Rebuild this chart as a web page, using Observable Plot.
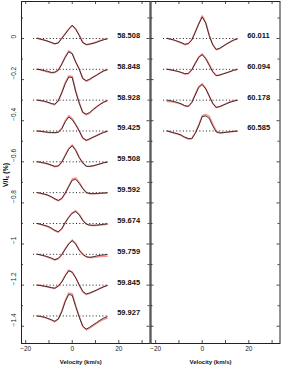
<!DOCTYPE html>
<html>
<head>
<meta charset="utf-8">
<script src="https://cdn.jsdelivr.net/npm/d3@7"></script>
<script src="https://cdn.jsdelivr.net/npm/@observablehq/plot@0.6"></script>
<style>
  html, body { margin: 0; padding: 0; background: #fff; }
  #wrap { position: relative; width: 281px; height: 368px; overflow: hidden; font-family: "Liberation Sans", Arial, sans-serif; }
  #left, #right { position: absolute; top: 0; }
  #left { left: 0; }
  #right { left: 150px; }
  #ylab { position: absolute; left: 0; top: 0; }
</style>
</head>
<body>
<div id="wrap">
  <div id="left"></div>
  <div id="right"></div>
  <svg id="ylab" width="20" height="368">
    <text transform="translate(7.5,175) rotate(-90)" text-anchor="middle" font-family="Liberation Sans, Arial, sans-serif" font-size="7" font-weight="bold" fill="#000">V/I<tspan font-size="5" dy="1.8">c</tspan><tspan dy="-1.8"> (%)</tspan></text>
  </svg>
</div>
<script>
// Velocity grid (km/s) shared by all profiles
const velocities = [-15, -13.5, -12, -10.5, -9, -7.5, -6, -4.5, -3, -1.5, 0, 1.5, 3, 4.5, 6, 7.5, 9, 10.5, 12, 13.5, 15];

// Rotational phases (labels) and vertical offsets (%)
const leftLabels = ["58.508", "58.848", "58.928", "59.425", "59.508", "59.592", "59.674", "59.759", "59.845", "59.927"];
const leftOffsets = [0, -0.15, -0.30, -0.45, -0.60, -0.75, -0.90, -1.05, -1.20, -1.35];
const rightLabels = ["60.011", "60.094", "60.178", "60.585"];
const rightOffsets = [0, -0.15, -0.30, -0.45];

// Model (black) profiles, V/Ic (%)
const model58508 = [0.000,-0.004,-0.008,-0.013,-0.019,-0.025,-0.022,0.000,0.022,0.045,0.065,0.045,0.015,-0.020,-0.029,-0.027,-0.024,-0.019,-0.012,-0.006,-0.002];
const model58848 = [0.000,-0.002,-0.006,-0.010,-0.015,-0.014,-0.004,0.025,0.058,0.086,0.075,0.035,0.002,-0.045,-0.055,-0.048,-0.038,-0.029,-0.018,-0.008,-0.002];
const model58928 = [0.000,-0.002,-0.005,-0.010,-0.016,-0.020,-0.002,0.035,0.080,0.112,0.110,0.040,-0.015,-0.060,-0.068,-0.060,-0.045,-0.032,-0.020,-0.010,-0.003];
const model59425 = [0.000,-0.002,-0.004,-0.006,-0.007,-0.008,-0.006,0.010,0.045,0.068,0.055,0.030,0.000,-0.035,-0.045,-0.038,-0.030,-0.023,-0.015,-0.007,-0.002];
const model59508 = [0.000,-0.003,-0.006,-0.010,-0.016,-0.022,-0.020,-0.002,0.030,0.062,0.078,0.055,0.020,-0.005,-0.022,-0.022,-0.019,-0.015,-0.010,-0.005,-0.002];
const model59592 = [0.000,-0.003,-0.007,-0.012,-0.020,-0.030,-0.038,-0.028,-0.002,0.030,0.060,0.065,0.045,0.020,0.000,-0.005,-0.005,-0.004,-0.003,-0.002,-0.001];
const model59674 = [0.000,-0.004,-0.009,-0.014,-0.022,-0.033,-0.040,-0.025,0.005,0.030,0.050,0.058,0.042,0.015,-0.003,-0.008,-0.009,-0.008,-0.006,-0.004,-0.002];
const model59759 = [0.000,-0.003,-0.007,-0.012,-0.018,-0.026,-0.020,-0.002,0.025,0.050,0.066,0.050,0.020,0.000,-0.012,-0.015,-0.012,-0.008,-0.005,-0.003,-0.001];
const model59845 = [0.000,-0.002,-0.005,-0.008,-0.012,-0.015,-0.005,0.015,0.045,0.070,0.062,0.035,0.002,-0.030,-0.043,-0.038,-0.031,-0.024,-0.016,-0.008,-0.002];
const model59927 = [0.000,-0.003,-0.006,-0.012,-0.018,-0.026,-0.015,0.020,0.070,0.105,0.100,0.045,-0.005,-0.050,-0.064,-0.055,-0.043,-0.032,-0.020,-0.010,-0.004];
const model60011 = [0.000,-0.004,-0.008,-0.014,-0.020,-0.028,-0.025,-0.008,0.030,0.070,0.105,0.075,0.015,-0.030,-0.053,-0.048,-0.037,-0.027,-0.017,-0.008,-0.002];
const model60094 = [0.000,-0.003,-0.006,-0.010,-0.015,-0.021,-0.020,-0.003,0.028,0.058,0.072,0.052,0.020,-0.012,-0.031,-0.028,-0.022,-0.017,-0.011,-0.005,-0.001];
const model60178 = [0.000,-0.003,-0.007,-0.012,-0.018,-0.027,-0.030,-0.012,0.025,0.062,0.076,0.055,0.020,-0.015,-0.035,-0.031,-0.024,-0.017,-0.010,-0.005,-0.001];
const model60585 = [0.000,-0.005,-0.010,-0.014,-0.020,-0.030,-0.037,-0.038,-0.012,0.025,0.070,0.073,0.062,0.025,-0.005,-0.010,-0.008,-0.006,-0.004,-0.002,-0.001];

// Observed (red) profiles, V/Ic (%)
const obs58508 = [0.003,-0.002,-0.007,-0.014,-0.021,-0.027,-0.020,0.003,0.024,0.046,0.062,0.047,0.017,-0.018,-0.031,-0.028,-0.022,-0.016,-0.010,-0.005,0.000];
const obs58848 = [0.002,-0.003,-0.008,-0.013,-0.018,-0.016,-0.005,0.027,0.062,0.090,0.078,0.036,0.000,-0.043,-0.058,-0.050,-0.037,-0.027,-0.016,-0.007,-0.001];
const obs58928 = [0.001,-0.003,-0.006,-0.011,-0.018,-0.022,-0.004,0.038,0.086,0.118,0.116,0.046,-0.012,-0.058,-0.072,-0.063,-0.047,-0.033,-0.020,-0.009,-0.002];
const obs59425 = [0.001,-0.001,-0.004,-0.007,-0.008,-0.009,-0.005,0.013,0.050,0.075,0.060,0.032,0.002,-0.033,-0.047,-0.040,-0.030,-0.021,-0.013,-0.006,-0.001];
const obs59508 = [0.001,-0.002,-0.006,-0.011,-0.017,-0.024,-0.021,-0.001,0.033,0.066,0.082,0.058,0.022,-0.004,-0.021,-0.023,-0.020,-0.015,-0.009,-0.004,0.000];
const obs59592 = [0.000,-0.004,-0.008,-0.013,-0.021,-0.031,-0.040,-0.030,-0.003,0.032,0.066,0.072,0.050,0.022,0.002,-0.004,-0.006,-0.005,-0.003,-0.002,0.000];
const obs59674 = [0.000,-0.005,-0.010,-0.016,-0.025,-0.036,-0.043,-0.027,0.004,0.031,0.052,0.062,0.044,0.017,-0.002,-0.009,-0.010,-0.010,-0.008,-0.006,-0.004];
const obs59759 = [0.001,-0.004,-0.009,-0.015,-0.021,-0.028,-0.022,-0.001,0.027,0.053,0.070,0.052,0.021,0.001,-0.011,-0.016,-0.015,-0.013,-0.011,-0.010,-0.009];
const obs59845 = [0.001,-0.002,-0.006,-0.009,-0.013,-0.016,-0.004,0.017,0.048,0.073,0.064,0.036,0.000,-0.033,-0.046,-0.040,-0.032,-0.024,-0.015,-0.008,-0.001];
const obs59927 = [0.000,-0.002,-0.006,-0.013,-0.020,-0.028,-0.014,0.024,0.076,0.112,0.108,0.050,-0.003,-0.050,-0.067,-0.059,-0.047,-0.036,-0.025,-0.016,-0.011];
const obs60011 = [0.001,-0.003,-0.008,-0.015,-0.022,-0.030,-0.026,-0.006,0.033,0.073,0.110,0.078,0.016,-0.030,-0.055,-0.049,-0.037,-0.026,-0.016,-0.008,-0.001];
const obs60094 = [0.001,-0.002,-0.006,-0.010,-0.016,-0.023,-0.021,-0.002,0.030,0.061,0.074,0.054,0.024,-0.010,-0.030,-0.028,-0.022,-0.016,-0.010,-0.004,0.000];
const obs60178 = [-0.006,-0.008,-0.010,-0.014,-0.020,-0.028,-0.031,-0.011,0.028,0.066,0.080,0.057,0.021,-0.016,-0.036,-0.032,-0.024,-0.016,-0.008,-0.003,0.001];
const obs60585 = [0.000,-0.005,-0.010,-0.015,-0.022,-0.032,-0.039,-0.036,-0.008,0.030,0.074,0.080,0.072,0.035,0.001,-0.008,-0.008,-0.006,-0.004,-0.002,0.000];

// Axis ticks
const xTickLabels = [-20, 0, 20];
const xTicksAll = [-20, -10, 0, 10, 20, 30];
const yTickLabels = [0, -0.2, -0.4, -0.6, -0.8, -1, -1.2, -1.4];
const yTicksMinor = [0.1, -0.1, -0.3, -0.5, -0.7, -0.9, -1.1, -1.3];

const leftModels = [model58508, model58848, model58928, model59425, model59508, model59592, model59674, model59759, model59845, model59927];
const leftObs = [obs58508, obs58848, obs58928, obs59425, obs59508, obs59592, obs59674, obs59759, obs59845, obs59927];
const rightModels = [model60011, model60094, model60178, model60585];
const rightObs = [obs60011, obs60094, obs60178, obs60585];

function rows(series, offsets, labels) {
  const out = [];
  series.forEach((s, i) => s.forEach((val, j) => out.push({v: velocities[j], y: offsets[i] + val, profile: labels[i]})));
  return out;
}

const fmtMinus = d => d === 0 ? "0" : (d < 0 ? "\u2212" + Math.abs(d) : String(d));
const H = 368, MT = 1, MB = 25;
const frameH = H - MT - MB;
const font = "Liberation Sans, Arial, sans-serif";

function panel({width, marginLeft, marginRight, xDomain, models, obs, offsets, labels, yLabels}) {
  const pw = width - marginLeft - marginRight;
  const marks = [
    Plot.frame({stroke: "#222", strokeWidth: 1}),
    Plot.ruleX(xTicksAll, {x: d => d, insetTop: frameH - 3, stroke: "#222", strokeWidth: 0.8}),
    Plot.ruleX(xTicksAll, {x: d => d, insetBottom: frameH - 3, stroke: "#222", strokeWidth: 0.8}),
    Plot.ruleY(yTickLabels, {y: d => d, insetRight: pw - 3, stroke: "#222", strokeWidth: 0.8}),
    Plot.ruleY(yTicksMinor, {y: d => d, insetRight: pw - 2, stroke: "#222", strokeWidth: 0.8}),
    Plot.ruleY(yTickLabels, {y: d => d, insetLeft: pw - 3, stroke: "#222", strokeWidth: 0.8}),
    Plot.ruleY(yTicksMinor, {y: d => d, insetLeft: pw - 2, stroke: "#222", strokeWidth: 0.8}),
    Plot.ruleY(offsets, {y: d => d, x1: -16.6, x2: 15.4, stroke: "#000", strokeWidth: 0.9, strokeDasharray: "1,2.3"}),
    Plot.line(rows(obs, offsets, labels), {x: "v", y: "y", z: "profile", stroke: "#ff6b6b", strokeWidth: 1.5, strokeOpacity: 0.75}),
    Plot.line(rows(models, offsets, labels), {x: "v", y: "y", z: "profile", stroke: "#222", strokeWidth: 0.9}),
    Plot.text(labels, {x: 19.3, y: (d, i) => offsets[i], text: d => d, textAnchor: "start", dy: -3, fontSize: 7.5, fontWeight: "bold", fill: "#111"}),
    Plot.text(xTickLabels, {x: d => d, frameAnchor: "bottom", text: fmtMinus, dy: 7, fontSize: 6.5, fill: "#222"}),
    Plot.text(["Velocity (km/s)"], {frameAnchor: "bottom", text: d => d, dy: 20, dx: -5, fontSize: 6, fontWeight: "bold", fill: "#111"})
  ];
  if (yLabels) {
    marks.push(Plot.text(yTickLabels, {y: d => d, frameAnchor: "left", text: fmtMinus, dx: -8, rotate: -90, fontSize: 6.5, fill: "#222"}));
  }
  return Plot.plot({
    width, height: H, marginLeft, marginRight, marginTop: MT, marginBottom: MB,
    style: {fontFamily: font, background: "transparent", overflow: "visible"},
    x: {domain: xDomain, axis: null},
    y: {domain: [-1.484, 0.18], axis: null},
    marks
  });
}

document.getElementById("left").append(panel({
  width: 150, marginLeft: 21, marginRight: 0.5, xDomain: [-21.8, 33.4],
  models: leftModels, obs: leftObs, offsets: leftOffsets, labels: leftLabels, yLabels: true
}));
document.getElementById("right").append(panel({
  width: 131, marginLeft: 0.5, marginRight: 1.5, xDomain: [-22, 33.4],
  models: rightModels, obs: rightObs, offsets: rightOffsets, labels: rightLabels, yLabels: false
}));
</script>
</body>
</html>
